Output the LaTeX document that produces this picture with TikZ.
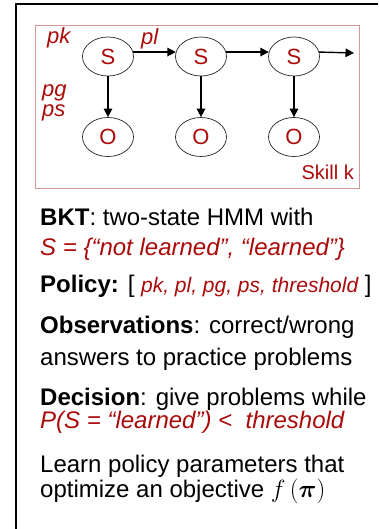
\documentclass[tikz,border=0pt]{standalone}
\usepackage{fontspec}
\setmainfont{Liberation Sans}
\usepackage{amsmath,bm}
\usetikzlibrary{arrows.meta,shapes.geometric}
\definecolor{dred}{RGB}{170,10,10}
\definecolor{boxred}{RGB}{215,150,150}
\begin{document}
\begin{tikzpicture}[x=1pt,y=-1pt,
  st/.style={ellipse,draw=black!85,line width=0.7pt,minimum width=51pt,minimum height=39pt,inner sep=0pt,text=dred,font=\fontsize{22}{22}\selectfont},
  arr/.style={-{Triangle[length=8.5pt,width=8.5pt]},line width=1.4pt},
  lab/.style={anchor=base west,inner sep=0pt,text=dred,font=\fontsize{22}{22}\selectfont\itshape},
  txt/.style={anchor=base west,inner sep=0pt,font=\fontsize{24}{24}\selectfont},
  rtxt/.style={txt,text=dred,font=\fontsize{24}{24}\selectfont\itshape}]
\useasboundingbox (0,0) rectangle (378,529);
% outer frame (cropped)
\draw[line width=1.3pt] (378,4) -- (16,4) -- (16,529);
% inner box
\draw[boxred,line width=0.8pt] (35.5,25) rectangle (359.5,188.5);
% states
\node[st] (s1) at (108,56.5) {S};
\node[st] (s2) at (201,56.5) {S};
\node[st] (s3) at (294,56.5) {S};
\node[st] (o1) at (108,137) {O};
\node[st] (o2) at (201,137) {O};
\node[st] (o3) at (294,137) {O};
\coordinate (end) at (354,53);
\draw[arr] (s1.10) -- (s2.170);
\draw[arr] (s2.10) -- (s3.170);
\draw[arr] (s3.10) -- (end);
\draw[arr] (s1.south) -- (o1.north);
\draw[arr] (s2.south) -- (o2.north);
\draw[arr] (s3.south) -- (o3.north);
% parameter labels
\node[lab] (pk) at (47,44) {pk};
\node[lab] (pl) at (141,45) {pl};
\node[lab] (pg) at (42,97) {pg};
\node[lab] (ps) at (42,117) {ps};
\node[anchor=base east,inner sep=0pt,text=dred,font=\fontsize{20}{20}\selectfont] (skill) at (354,180) {Skill k};
% text
\node[txt] (l1) at (40,225) {\textbf{BKT}: two-state HMM with};
\node[rtxt] (l2) at (40,255) {S = \{“not learned”, “learned”\}};
\node[txt] (l3) at (40,292) {\textbf{Policy:} [ {\color{dred}\fontsize{21}{21}\selectfont\itshape pk, pl, pg, ps, threshold} ]};
\node[txt] (l4) at (40,333) {\textbf{Observations}: correct/wrong};
\node[txt] (l5) at (40,365) {answers to practice problems};
\node[txt] (l6) at (40,405) {\textbf{Decision}: give problems while};
\node[rtxt] (l7) at (40,428) {P(S = “learned”) <\ \ threshold};
\node[txt] (l8) at (40,472) {Learn policy parameters that};
\node[txt] (l9) at (40,497) {optimize an objective $f\,(\bm{\pi})$};
\end{tikzpicture}
\end{document}
